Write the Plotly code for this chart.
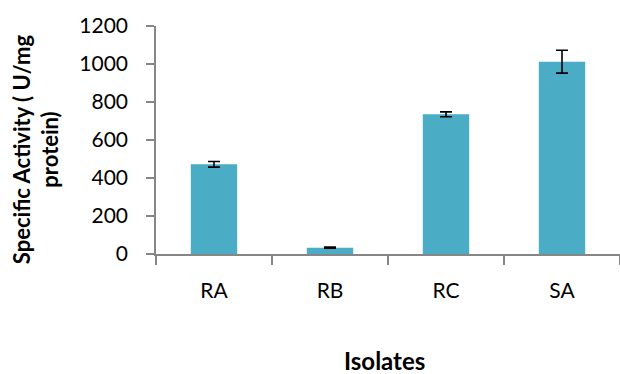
import plotly.graph_objects as go

categories = ["RA", "RB", "RC", "SA"]
values = [472, 33, 735, 1012]
errors = [15, 3, 13, 60]
y_ticks = [0, 200, 400, 600, 800, 1000, 1200]

fig = go.Figure()
fig.add_trace(go.Bar(
    x=categories, y=values, width=0.4,
    marker=dict(color="#4BACC6", line=dict(width=0)),
    error_y=dict(type="data", array=errors, visible=True, color="black", thickness=1.6, width=6),
))

font_family = "Lato, 'Open Sans', sans-serif"
fig.update_layout(
    width=620, height=374,
    margin=dict(l=156, r=0, t=26, b=120),
    paper_bgcolor="white", plot_bgcolor="white",
    showlegend=False,
    font=dict(family=font_family, size=21, color="black"),
    xaxis=dict(
        showline=True, linecolor="#868686", linewidth=1.5,
        ticks="outside", tickson="boundaries", ticklen=9, tickcolor="#868686", tickwidth=1.5,
        tickfont=dict(size=21, color="black"), ticklabelstandoff=17,
        showgrid=False,
    ),
    yaxis=dict(
        range=[0, 1200], tickvals=y_ticks,
        showline=True, linecolor="#868686", linewidth=1.5,
        ticks="outside", ticklen=8, tickcolor="#868686", tickwidth=1.5,
        tickfont=dict(size=21, color="black"), ticklabelstandoff=14,
        showgrid=False, zeroline=False,
    ),
    annotations=[
        dict(text="<b>Specific Activity ( U/mg<br>protein)</b>", textangle=-90,
             xref="paper", yref="paper", x=-0.2586, y=0.46, xanchor="center", yanchor="middle",
             showarrow=False, font=dict(size=22, family=font_family)),
        dict(text="<b>Isolates</b>", xref="paper", yref="paper", x=0.4925, y=-0.465,
             xanchor="center", yanchor="middle", showarrow=False,
             font=dict(size=24, family=font_family)),
    ],
)

fig.write_html("out.html", config={"displayModeBar": False},
               post_script="document.body.style.margin='0';")
